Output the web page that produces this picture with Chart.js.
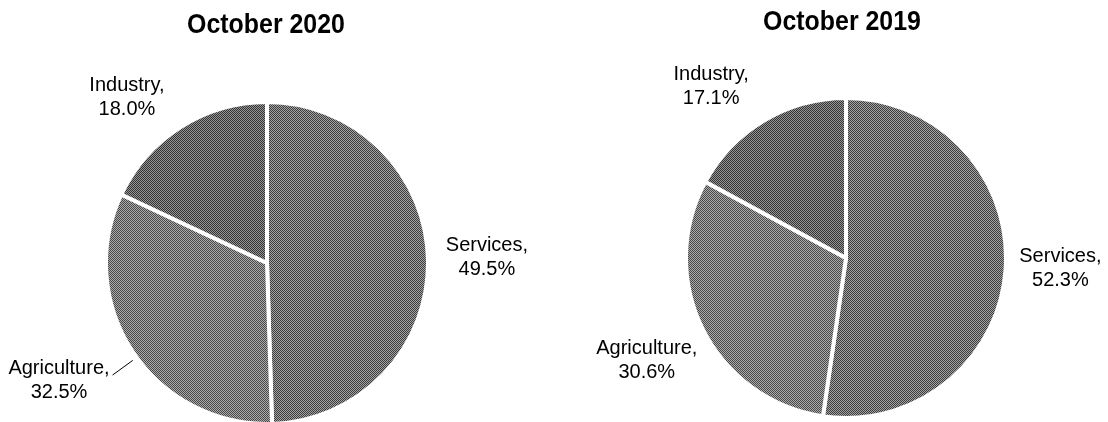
<!DOCTYPE html>
<html><head><meta charset="utf-8">
<script src="https://cdn.jsdelivr.net/npm/chart.js@4.4.1/dist/chart.umd.min.js"></script>
<style>
html,body{margin:0;padding:0;background:#fff;}
#wrap{position:relative;width:1108px;height:422px;overflow:hidden;}
.box{position:absolute;top:0;width:554px;height:422px;}
</style></head>
<body><div id="wrap">
<div class="box" style="left:0"><canvas id="c1"></canvas></div>
<div class="box" style="left:554px"><canvas id="c2"></canvas></div>
</div>
<script>
// ---- data ----
const categories = ['Services', 'Agriculture', 'Industry'];
const values2020 = [49.5, 32.5, 18.0];
const values2019 = [52.3, 30.6, 17.1];
const titles = ['October 2020', 'October 2019'];

// ---- styling helpers ----
function makePattern(dark, light) {
  const p = document.createElement('canvas');
  p.width = 2; p.height = 2;
  const g = p.getContext('2d');
  g.fillStyle = light; g.fillRect(0, 0, 2, 2);
  g.fillStyle = dark; g.fillRect(0, 0, 1, 1); g.fillRect(1, 1, 1, 1);
  return g.createPattern(p, 'repeat');
}
const fills = [
  makePattern('#3c3c3c', '#a4a4a4'),
  makePattern('#484848', '#acacac'),
  makePattern('#333333', '#969696')
];

const labelPlugin = {
  id: 'sliceLabels',
  afterDatasetsDraw(chart, args, opts) {
    const ctx = chart.ctx;
    const meta = chart.getDatasetMeta(0);
    const ds = chart.data.datasets[0];
    ctx.save();
    ctx.fillStyle = '#000';
    // title
    const ca = chart.chartArea;
    ctx.save();
    ctx.font = 'bold 28px "Liberation Sans", Arial, sans-serif';
    ctx.textAlign = 'center';
    ctx.textBaseline = 'alphabetic';
    ctx.translate(opts.titleX, opts.titleY);
    ctx.scale(0.89, 1);
    ctx.fillText(opts.title, 0, 0);
    ctx.restore();
    // slice labels
    ctx.font = '20px "Liberation Sans", Arial, sans-serif';
    ctx.textAlign = 'center';
    ctx.textBaseline = 'middle';
    meta.data.forEach((arc, i) => {
      const p = arc.getProps(['x', 'y', 'outerRadius'], true);
      const R = p.outerRadius;
      const f = opts.layout[i];
      const lx = p.x + f[0] * R, ly = p.y + f[1] * R;
      const l1 = chart.data.labels[i] + ',';
      const l2 = ds.data[i].toFixed(1) + '%';
      ctx.fillText(l1, lx, ly - 12);
      ctx.fillText(l2, lx, ly + 12);
      if (f[2]) {
        const w = ctx.measureText(l1).width;
        const sx = lx + w / 2 + 3, sy = ly - 5;
        const dx = sx - p.x, dy = sy - p.y, d = Math.hypot(dx, dy);
        const ex = p.x + dx / d * R * 1.03, ey = p.y + dy / d * R * 1.03;
        ctx.strokeStyle = '#000';
        ctx.lineWidth = 1;
        ctx.beginPath(); ctx.moveTo(sx, sy); ctx.lineTo(ex, ey); ctx.stroke();
      }
    });
    ctx.restore();
  }
};

function makePie(id, values, title, radius, padding, titleX, titleY, layout) {
  return new Chart(document.getElementById(id), {
    type: 'pie',
    data: {
      labels: categories,
      datasets: [{
        data: values,
        backgroundColor: fills,
        borderColor: '#ffffff',
        borderWidth: 4
      }]
    },
    options: {
      responsive: false,
      animation: false,
      events: [],
      radius: radius,
      rotation: 0,
      layout: { padding: padding },
      plugins: {
        legend: { display: false },
        tooltip: { enabled: false },
        title: { display: false },
        sliceLabels: { title: title, titleX: titleX, titleY: titleY, layout: layout }
      }
    },
    plugins: [labelPlugin]
  });
}

const cv1 = document.getElementById('c1'); cv1.width = 554; cv1.height = 422;
const cv2 = document.getElementById('c2'); cv2.width = 554; cv2.height = 422;

makePie('c1', values2020, titles[0], 161,
  { left: 0, right: 20, top: 104, bottom: 0 }, 266, 33,
  [[1.366, -0.037], [-1.292, 0.727, true], [-0.870, -1.025]]);

makePie('c2', values2019, titles[1], 160,
  { left: 30, right: 0, top: 94, bottom: 0 }, 288, 30,
  [[1.34, 0.063], [-1.245, 0.642], [-0.843, -1.069]]);
</script>
</body></html>
